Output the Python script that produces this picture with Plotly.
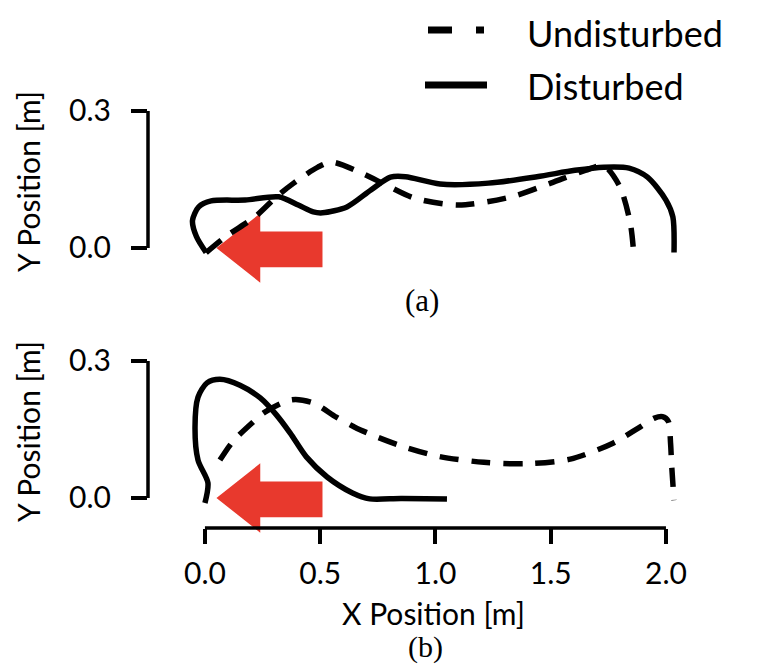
import plotly.graph_objects as go

# ---------------- data ----------------
# Panel (a): undisturbed trajectory
a_undist_x = [0.005, 0.09, 0.217, 0.31, 0.385, 0.49, 0.55, 0.68, 0.785, 0.91, 1.10,
              1.33, 1.50, 1.65, 1.73, 1.80, 1.845, 1.86]
a_undist_y = [-0.01, 0.025, 0.068, 0.112, 0.142, 0.177, 0.188, 0.164, 0.138, 0.109, 0.094,
              0.112, 0.142, 0.170, 0.180, 0.134, 0.055, -0.01]
# Panel (a): disturbed trajectory
a_dist_x = [0.005, -0.037, -0.054, -0.027, 0.027, 0.175, 0.32, 0.405, 0.47, 0.51, 0.616,
            0.72, 0.805, 0.87, 1.02, 1.23, 1.44, 1.605, 1.73, 1.84, 1.92, 2.00, 2.03, 2.035]
a_dist_y = [-0.01, 0.025, 0.060, 0.090, 0.103, 0.105, 0.112, 0.094, 0.079, 0.077, 0.090,
            0.127, 0.155, 0.156, 0.140, 0.142, 0.156, 0.170, 0.177, 0.175, 0.155, 0.105, 0.068, -0.01]
# Panel (b): undisturbed trajectory
b_undist_x = [0.065, 0.12, 0.204, 0.26, 0.377, 0.47, 0.57, 0.65, 0.75, 0.87, 1.015, 1.21,
              1.40, 1.585, 1.77, 1.88, 1.95, 1.985, 2.01, 2.02, 2.025, 2.035]
b_undist_y = [0.083, 0.123, 0.164, 0.188, 0.215, 0.208, 0.177, 0.155, 0.133, 0.111, 0.091, 0.078,
              0.075, 0.085, 0.120, 0.153, 0.175, 0.178, 0.168, 0.12, 0.07, -0.005]
# Panel (b): disturbed trajectory
b_dist_x = [0.0, 0.013, -0.03, -0.043, -0.03, 0.009, 0.065, 0.152, 0.24, 0.31, 0.37, 0.44,
            0.53, 0.64, 0.715, 0.85, 1.05]
b_dist_y = [-0.011, 0.033, 0.083, 0.155, 0.221, 0.252, 0.260, 0.247, 0.219, 0.182, 0.142, 0.090,
            0.046, 0.011, -0.002, -0.001, -0.002]

# Direction arrow outline (data units)
arrow_x = [0.05, 0.24, 0.24, 0.51, 0.51, 0.24, 0.24, 0.05]
arrow_y = [0.0, 0.076, 0.036, 0.036, -0.042, -0.042, -0.076, 0.0]

x_ticks = [0.0, 0.5, 1.0, 1.5, 2.0]
y_ticks = [0.0, 0.3]
labels = ["Undisturbed", "Disturbed"]

# ---------------- figure ----------------
FONT = "Lato"
LW = 5.5
DASH = "19px,13px"
RED = "#E8392D"
W, H = 757, 670
OFF = 8  # page offset of the plot div


def px_x(p):  # screen px -> paper x
    return (p - 148) / 541


def px_y(p):  # screen px -> paper y
    return 1 - (p - OFF) / H


fig = go.Figure()

# arrows
for xa, ya in [("x", "y"), ("x2", "y2")]:
    fig.add_trace(go.Scatter(x=arrow_x, y=arrow_y, xaxis=xa, yaxis=ya, mode="lines",
                             fill="toself", fillcolor=RED, line=dict(width=0, color=RED),
                             showlegend=False, hoverinfo="skip"))

for xs, ys, xa, ya, dash, name in [
    (a_undist_x, a_undist_y, "x", "y", DASH, labels[0]),
    (a_dist_x, a_dist_y, "x", "y", "solid", labels[1]),
    (b_undist_x, b_undist_y, "x2", "y2", DASH, labels[0]),
    (b_dist_x, b_dist_y, "x2", "y2", "solid", labels[1]),
]:
    fig.add_trace(go.Scatter(x=xs, y=ys, xaxis=xa, yaxis=ya, mode="lines", name=name,
                             line=dict(color="black", width=LW, dash=dash, shape="spline", smoothing=0.8),
                             showlegend=False))

XR = [-0.247, 2.1]
YR = [-0.085, 0.31]
x_axis_pos = px_y(528)

yaxis_common = dict(range=YR, tickvals=y_ticks, ticktext=[f"{v:.1f}" for v in y_ticks],
                    ticks="outside", ticklen=16, tickwidth=3.5, tickcolor="black",
                    showline=False, showgrid=False, zeroline=False,
                    tickfont=dict(family=FONT, size=30, color="black"),
                    ticklabelstandoff=14, fixedrange=True)

fig.update_layout(
    width=W, height=H,
    margin=dict(l=148 - OFF, r=W - (689 - OFF), t=0, b=0, autoexpand=False),
    paper_bgcolor="white", plot_bgcolor="white",
    xaxis=dict(domain=[0, 1], range=XR, anchor="y", showticklabels=False, ticks="",
               showline=False, showgrid=False, zeroline=False),
    xaxis2=dict(domain=[0, 1], range=XR, anchor="free", position=x_axis_pos, matches="x",
                tickvals=x_ticks, ticktext=[f"{v:.1f}" for v in x_ticks],
                ticks="outside", ticklen=15, tickwidth=3.5, tickcolor="black",
                showline=False, showgrid=False, zeroline=False,
                tickfont=dict(family=FONT, size=30, color="black"), ticklabelstandoff=4),
    yaxis=dict(domain=[px_y(286.8), px_y(106.4)], anchor="x", **yaxis_common),
    yaxis2=dict(domain=[px_y(536.8), px_y(356.4)], anchor="x2", **yaxis_common),
    showlegend=False,
)

# trimmed spines
spine = dict(color="black", width=3.5)
fig.add_shape(type="line", xref="paper", x0=0, x1=0, yref="y", y0=y_ticks[0], y1=y_ticks[-1], line=spine)
fig.add_shape(type="line", xref="paper", x0=0, x1=0, yref="y2", y0=y_ticks[0], y1=y_ticks[-1], line=spine)
fig.add_shape(type="line", xref="x2", x0=x_ticks[0], x1=x_ticks[-1], yref="paper",
              y0=x_axis_pos, y1=x_axis_pos, line=spine)

# legend (key lines + labels)
fig.add_shape(type="line", xref="paper", yref="paper", x0=px_x(428), x1=px_x(484),
              y0=px_y(30), y1=px_y(30), line=dict(color="black", width=7, dash="24px,24px"))
fig.add_shape(type="line", xref="paper", yref="paper", x0=px_x(425), x1=px_x(487),
              y0=px_y(85), y1=px_y(85), line=dict(color="black", width=7))


def ann(text, x, y, size, family=FONT, angle=0, xanchor="center"):
    fig.add_annotation(text=text, xref="paper", yref="paper", x=x, y=y, showarrow=False,
                       xanchor=xanchor, yanchor="middle", textangle=angle,
                       font=dict(family=family, size=size, color="black"))


ann(labels[0], px_x(525), px_y(33), 36, xanchor="left")
ann(labels[1], px_x(525), px_y(86), 36, xanchor="left")
ann("Y Position [m]", px_x(28), px_y(182), 30, angle=-90)
ann("Y Position [m]", px_x(28), px_y(432), 30, angle=-90)
ann("X Position [m]", px_x(433), px_y(613), 30)
ann("(a)", px_x(422), px_y(300), 31, family="Liberation Serif")
ann("(b)", px_x(425), px_y(647), 30, family="Liberation Serif")

fig.write_html("out.html")
